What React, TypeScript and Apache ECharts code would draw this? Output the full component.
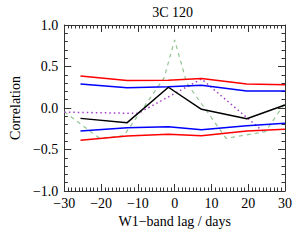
import React, { useEffect, useRef } from "react";
import * as echarts from "echarts";

const lags = [-25.6, -12.9, -1.7, 7.3, 19.6, 30];
const redUpper = [0.385, 0.33, 0.335, 0.355, 0.29, 0.28];
const blueUpper = [0.29, 0.245, 0.255, 0.275, 0.205, 0.205];
const blueLower = [-0.277, -0.237, -0.225, -0.262, -0.213, -0.185];
const redLower = [-0.39, -0.337, -0.317, -0.335, -0.277, -0.257];
const blackCorr = [-0.125, -0.177, 0.25, -0.016, -0.13, 0.036];
const greenLags = [-30, -20.4, -13.8, -2.9, 0, 3.3, 14, 24.7, 30];
const greenCorr = [-0.045, -0.365, -0.334, 0.36, 0.82, 0.3, -0.365, -0.285, 0.06];
const purpleLags = [-30, -10, 7.3, 24.5];
const purpleCorr = [-0.05, -0.065, 0.35, -0.3];

const titleText = "3C 120";
const xName = "W1\u2212band lag / days";
const yName = "Correlation";

const FONT = "'Liberation Serif', 'Times New Roman', serif";
const FS = 14;

function pairs(xs: number[], ys: number[]) {
  return xs.map((x, i) => [x, ys[i]]);
}

export default function App() {
  const ref = useRef<HTMLDivElement>(null);
  useEffect(() => {
    if (!ref.current) return;
    const chart = echarts.init(ref.current, null, { renderer: "svg" });
    const axisLine = { show: true, onZero: false, lineStyle: { color: "#333", width: 1 } };
    const xTicks = {
      axisTick: { show: true, inside: true, length: 7, lineStyle: { color: "#333" } },
      minorTick: { show: true, splitNumber: 10, length: 3.5, lineStyle: { color: "#333" } },
      splitLine: { show: false },
    };
    const yTicks = {
      axisTick: { show: true, inside: true, length: 7, lineStyle: { color: "#333" } },
      minorTick: { show: true, splitNumber: 5, length: 3.5, lineStyle: { color: "#333" } },
      splitLine: { show: false },
    };
    const mk = (name: string, xs: number[], ys: number[], color: string, type: any, width: number) => ({
      name,
      type: "line",
      data: pairs(xs, ys),
      symbol: "none",
      lineStyle: { color, type, width },
      z: 3,
    });
    chart.setOption({
      animation: false,
      grid: { left: 60.5, right: 15, top: 25, bottom: 49 },
      graphic: [
        {
          type: "text",
          x: 172.7,
          y: 12,
          style: {
            text: titleText,
            font: `${FS}px ${FONT}`,
            fill: "#000",
            textAlign: "center",
            textVerticalAlign: "middle",
          },
        },
      ],
      xAxis: [
        {
          type: "value",
          min: -30,
          max: 30,
          interval: 10,
          position: "bottom",
          axisLine,
          ...xTicks,
          axisLabel: {
            color: "#000",
            fontFamily: FONT,
            fontSize: FS,
            margin: 5,
            formatter: (v: number) => String(v).replace("-", "\u2212"),
          },
          name: xName,
          nameLocation: "middle",
          nameGap: 20,
          nameTextStyle: { color: "#000", fontFamily: FONT, fontSize: FS },
        },
        {
          type: "value",
          min: -30,
          max: 30,
          interval: 10,
          position: "top",
          axisLine,
          ...xTicks,
          axisLabel: { show: false },
        },
      ],
      yAxis: [
        {
          type: "value",
          min: -1,
          max: 1,
          interval: 0.5,
          position: "left",
          axisLine,
          ...yTicks,
          axisLabel: {
            color: "#000",
            fontFamily: FONT,
            fontSize: FS,
            margin: 6,
            formatter: (v: number) => v.toFixed(1).replace("-", "\u2212"),
          },
          name: yName,
          nameLocation: "middle",
          nameGap: 30,
          nameTextStyle: { color: "#000", fontFamily: FONT, fontSize: FS },
        },
        {
          type: "value",
          min: -1,
          max: 1,
          interval: 0.5,
          position: "right",
          axisLine,
          ...yTicks,
          axisLabel: { show: false },
        },
      ],
      series: [
        mk("green", greenLags, greenCorr, "#93c493", [4, 4], 1.2),
        mk("purple", purpleLags, purpleCorr, "#a33ec8", [1.5, 3], 1.5),
        mk("redU", lags, redUpper, "#ff0000", "solid", 1.5),
        mk("blueU", lags, blueUpper, "#0000ff", "solid", 1.5),
        mk("blueL", lags, blueLower, "#0000ff", "solid", 1.5),
        mk("redL", lags, redLower, "#ff0000", "solid", 1.5),
        mk("black", lags, blackCorr, "#000000", "solid", 1.5),
      ],
    });
    return () => chart.dispose();
  }, []);
  return (
    <div
      ref={ref}
      style={{ position: "fixed", left: 0, top: 0, width: 300, height: 240, background: "#fff" }}
    />
  );
}
